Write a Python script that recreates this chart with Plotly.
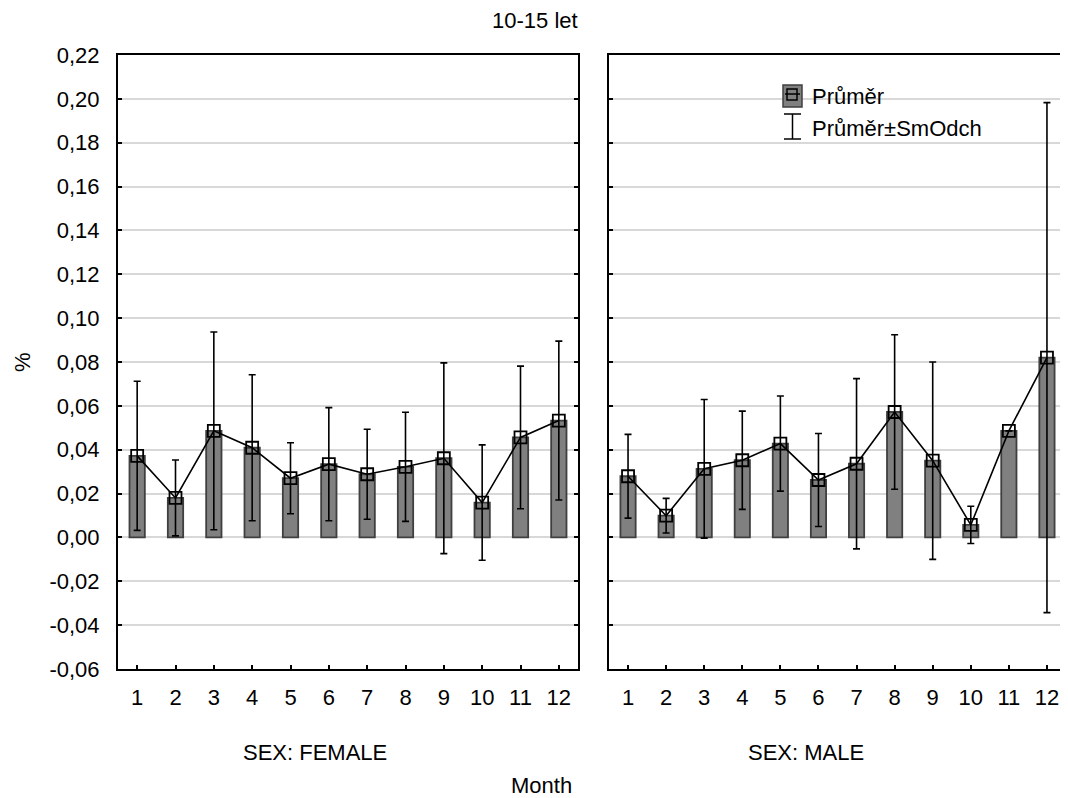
import plotly.graph_objects as go

months = [1, 2, 3, 4, 5, 6, 7, 8, 9, 10, 11, 12]
month_labels = ["1", "2", "3", "4", "5", "6", "7", "8", "9", "10", "11", "12"]

female_mean = [0.0372, 0.0180, 0.0486, 0.0409, 0.0270, 0.0334, 0.0288, 0.0322, 0.0361, 0.0159, 0.0456, 0.0533]
female_sd = [0.0340, 0.0173, 0.0451, 0.0333, 0.0162, 0.0258, 0.0205, 0.0249, 0.0435, 0.0263, 0.0325, 0.0362]

male_mean = [0.0279, 0.0099, 0.0313, 0.0352, 0.0428, 0.0262, 0.0336, 0.0572, 0.0350, 0.0057, 0.0486, 0.0820]
male_sd = [0.0191, 0.0079, 0.0316, 0.0224, 0.0217, 0.0212, 0.0388, 0.0352, 0.0450, 0.0085, None, 0.1163]

y_ticks = [-0.06, -0.04, -0.02, 0.00, 0.02, 0.04, 0.06, 0.08, 0.10, 0.12, 0.14, 0.16, 0.18, 0.20, 0.22]
y_tick_labels = [("%.2f" % v).replace(".", ",") for v in y_ticks]

title_text = "10-15 let"
panel_labels = ["SEX: FEMALE", "SEX: MALE"]
x_title = "Month"
y_title = "%"
legend_labels = ["Průměr", "Průměr±SmOdch"]

# the page body has an 8px margin, so the figure is laid out 8px smaller
OFF = 8
W, H = 1068 - OFF, 798 - OFF
L, T = 118 - OFF, 55 - OFF
R = W - (1066 - OFF)
B = H - (669 - OFF)
PW = W - L - R
PH = H - T - B


def px(X):
    return (X - OFF - L) / PW


def py(Y):
    return (H - B - (Y - OFF)) / PH


FONT = "Arial, Liberation Sans, sans-serif"
FS = 22
BAR_FILL = "#808080"
BAR_LINE = "#3f3f3f"

fig = go.Figure()

for xa, ya, mean, sd in [("x", "y", female_mean, female_sd), ("x2", "y2", male_mean, male_sd)]:
    fig.add_trace(go.Bar(
        x=months, y=mean, xaxis=xa, yaxis=ya, width=0.4,
        marker=dict(color=BAR_FILL, line=dict(color=BAR_LINE, width=1.8)),
        showlegend=False, hoverinfo="skip",
    ))
    fig.add_trace(go.Scatter(
        x=months, y=mean, xaxis=xa, yaxis=ya, mode="lines+markers",
        line=dict(color="black", width=1.6),
        marker=dict(symbol="square-open", size=12, color="black", line=dict(width=1.8)),
        error_y=dict(type="data", array=sd, visible=True, color="black", thickness=1.6, width=3.5),
        showlegend=False,
    ))

axis_common = dict(
    showline=True, linecolor="black", linewidth=2, mirror=True,
    ticks="inside", ticklen=4, tickwidth=1.5, tickcolor="black",
    showgrid=False, zeroline=False,
    tickfont=dict(family=FONT, size=FS, color="black"),
)
y_common = {**axis_common, "mirror": "ticks", "showgrid": True,
            "gridcolor": "#d8d8d8", "gridwidth": 1.5}

fig.update_layout(
    width=W, height=H,
    margin=dict(l=L, r=R, t=T, b=B, autoexpand=False),
    paper_bgcolor="white", plot_bgcolor="white",
    font=dict(family=FONT, size=FS, color="black"),
    xaxis=dict(domain=[0, px(578)], range=[0.5, 12.5], tickmode="array",
               tickvals=months, ticktext=month_labels, anchor="y",
               ticklabelstandoff=8, **axis_common),
    xaxis2=dict(domain=[px(609), 1], range=[0.5, 12.5], tickmode="array",
                tickvals=months, ticktext=month_labels, anchor="y2",
                ticklabelstandoff=8, **axis_common),
    yaxis=dict(range=[-0.06, 0.22], tickmode="array", tickvals=y_ticks,
               ticktext=y_tick_labels, anchor="x", ticklabelstandoff=12, **y_common),
    yaxis2=dict(range=[-0.06, 0.22], tickmode="array", tickvals=y_ticks,
                showticklabels=False, anchor="x2", matches="y", **y_common),
)

annotations = [
    dict(text=title_text, x=px(535), y=py(21), xanchor="center", yanchor="middle"),
    dict(text=panel_labels[0], x=px(315), y=py(752), xanchor="center", yanchor="middle"),
    dict(text=panel_labels[1], x=px(806), y=py(752), xanchor="center", yanchor="middle"),
    dict(text=x_title, x=px(541), y=py(785), xanchor="center", yanchor="middle"),
    dict(text=y_title, x=px(22), y=py(362), xanchor="center", yanchor="middle", textangle=-90),
    dict(text=legend_labels[0], x=px(811), y=py(96), xanchor="left", yanchor="middle"),
    dict(text=legend_labels[1], x=px(811), y=py(128), xanchor="left", yanchor="middle"),
]
for a in annotations:
    a.update(xref="paper", yref="paper", showarrow=False, borderpad=0,
             font=dict(family=FONT, size=FS, color="black"))
fig.update_layout(annotations=annotations)

# legend icons
shapes = [
    dict(type="rect", x0=px(783), x1=px(802), y0=py(107), y1=py(85),
         fillcolor=BAR_FILL, line=dict(color=BAR_LINE, width=1.5)),
    dict(type="line", x0=px(785), x1=px(800), y0=py(94), y1=py(94),
         line=dict(color="black", width=1.5)),
    dict(type="rect", x0=px(787), x1=px(797), y0=py(100), y1=py(89),
         line=dict(color="black", width=1.5)),
    dict(type="line", x0=px(792.5), x1=px(792.5), y0=py(139), y1=py(114),
         line=dict(color="black", width=1.5)),
    dict(type="line", x0=px(784), x1=px(801), y0=py(114), y1=py(114),
         line=dict(color="black", width=1.5)),
    dict(type="line", x0=px(784), x1=px(801), y0=py(139), y1=py(139),
         line=dict(color="black", width=1.5)),
]
for s in shapes:
    s.update(xref="paper", yref="paper")
fig.update_layout(shapes=shapes)

fig.write_html("out.html")
